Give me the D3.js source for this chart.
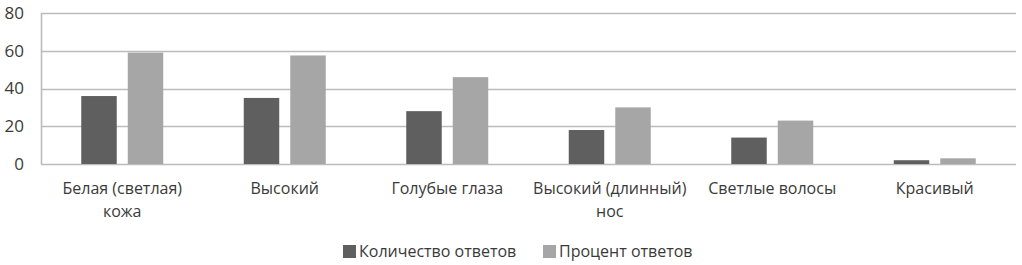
<!DOCTYPE html>
<html>
<head>
<meta charset="utf-8">
<script src="https://cdn.jsdelivr.net/npm/d3@7"></script>
<style>
  body { margin: 0; background: #fff; }
  svg text { font-family: "Open Sans", sans-serif; fill: #3a3a3a; }
</style>
</head>
<body>
<div id="chart"></div>
<script>
const categories = ["Белая (светлая) кожа", "Высокий", "Голубые глаза", "Высокий (длинный) нос", "Светлые волосы", "Красивый"];
const seriesNames = ["Количество ответов", "Процент ответов"];
const countValues = [36, 35, 28, 18, 14, 2];
const percentValues = [59, 57.5, 46, 30, 23, 3];
const yTicks = [0, 20, 40, 60, 80];

const W = 1022, H = 265;
const M = { top: 13, right: 6, bottom: 101, left: 41 };
const FS = 16;
const colors = ["#5f5f5f", "#a6a6a6"];

const svg = d3.select("#chart").append("svg").attr("width", W).attr("height", H);

const x0 = d3.scaleBand().domain(categories).range([M.left, W - M.right]).padding(0);
const x1 = d3.scaleBand().domain(seriesNames).range([-41, 41]).paddingInner(0.237).paddingOuter(0);
const y = d3.scaleLinear().domain([0, 80]).range([H - M.bottom, M.top]);

// gridlines
svg.append("g").selectAll("line").data(yTicks).join("line")
  .attr("x1", M.left).attr("x2", W - M.right)
  .attr("y1", (d) => Math.round(y(d)) + 0.5).attr("y2", (d) => Math.round(y(d)) + 0.5)
  .attr("stroke", "#bcbcbc").attr("stroke-width", 1.6);
svg.append("line")
  .attr("x1", M.left + 0.5).attr("x2", M.left + 0.5)
  .attr("y1", y(80)).attr("y2", y(0))
  .attr("stroke", "#bcbcbc").attr("stroke-width", 1.6);

// y labels
svg.append("g").selectAll("text").data(yTicks).join("text")
  .attr("x", 24).attr("y", (d) => y(d)).attr("dy", "0.35em")
  .attr("text-anchor", "end").style("font-size", "17px")
  .text((d) => d);

// bars
const rows = categories.map((c, i) => ({ cat: c, vals: [countValues[i], percentValues[i]] }));
const groups = svg.append("g").selectAll("g").data(rows).join("g")
  .attr("transform", (d) => `translate(${x0(d.cat) + x0.bandwidth() / 2},0)`);
groups.selectAll("rect").data((d) => d.vals.map((v, k) => ({ s: seriesNames[k], v, k }))).join("rect")
  .attr("x", (d) => x1(d.s)).attr("width", x1.bandwidth())
  .attr("y", (d) => y(d.v)).attr("height", (d) => y(0) - y(d.v))
  .attr("fill", (d) => colors[d.k]);

// category labels with wrapping
const labels = svg.append("g").selectAll("text").data(categories).join("text")
  .attr("x", (d) => x0(d) + x0.bandwidth() / 2)
  .attr("y", y(0) + 30)
  .attr("text-anchor", "middle").style("font-size", FS + "px");
labels.each(function (d) {
  const t = d3.select(this);
  const words = d.split(" ");
  let line = [], lines = [];
  const probe = t.append("tspan");
  words.forEach((w) => {
    const test = line.concat(w).join(" ");
    probe.text(test);
    if (probe.node().getComputedTextLength() > 155 && line.length) { lines.push(line.join(" ")); line = [w]; }
    else line.push(w);
  });
  lines.push(line.join(" "));
  probe.remove();
  lines.forEach((l, i) => t.append("tspan").attr("x", t.attr("x")).attr("dy", i ? 23 : 0).text(l));
});

// legend
const legend = svg.append("g");
const legX = [343, 543];
seriesNames.forEach((s, k) => {
  legend.append("rect").attr("x", legX[k]).attr("y", 245).attr("width", 13).attr("height", 13).attr("fill", colors[k]);
  legend.append("text").attr("x", legX[k] + 16).attr("y", 251).attr("dy", "0.35em")
    .style("font-size", FS + "px").text(s);
});
</script>
</body>
</html>
